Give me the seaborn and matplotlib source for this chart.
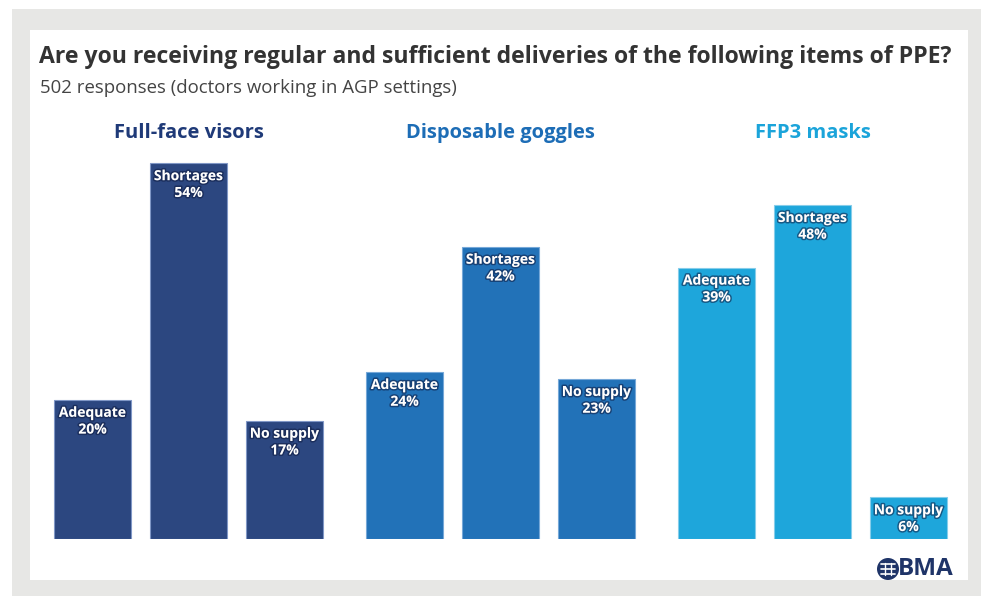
import matplotlib
matplotlib.use("Agg")
import matplotlib.pyplot as plt
import matplotlib.patheffects as pe
from matplotlib.patches import Rectangle, Ellipse
import seaborn as sns
import pandas as pd

# Survey data: share of respondents (%) per PPE item and supply status
groups = ["Full-face visors", "Disposable goggles", "FFP3 masks"]
statuses = ["Adequate", "Shortages", "No supply"]
visors = [20, 54, 17]
goggles = [24, 42, 23]
masks = [39, 48, 6]
values = [visors, goggles, masks]

bar_colors = ["#2c4780", "#2272b8", "#1ea6db"]
edge_colors = ["#8097c6", "#76a8d8", "#86cdea"]
title_colors = ["#1f3a78", "#1d6db6", "#1ba4da"]
navy = "#1f3468"

W, H = 981, 596
sns.set_theme(style="white")
plt.rcParams["font.family"] = ["Open Sans", "DejaVu Sans"]

fig = plt.figure(figsize=(W / 100, H / 100), dpi=100)
fig.patch.set_facecolor("white")


def fx(x):
    return x / W


def fy(y):
    return 1 - y / H


def panel(x0, y0, x1, y1, color):
    fig.patches.append(Rectangle((fx(x0), fy(y1)), (x1 - x0) / W, (y1 - y0) / H,
                                 transform=fig.transFigure, facecolor=color,
                                 edgecolor="none", zorder=-10))


# grey frame and white card
panel(12, 9, W, H, "#e7e7e5")
panel(30, 30, 968, 580, "white")

fig.text(fx(39), fy(57), "Are you receiving regular and sufficient deliveries of the following items of PPE?",
         fontsize=16.55, fontweight="bold", color="#333333", va="center", ha="left")
fig.text(fx(40), fy(88), "502 responses (doctors working in AGP settings)",
         fontsize=13.4, color="#444444", va="center", ha="left")

px_per_pct = 6.96
ymax = 60
base_px = 539
ax_lefts = [44.5, 356.5, 668.5]
ax_width = 288

shadow = [pe.withStroke(linewidth=2.2, foreground=(0.05, 0.1, 0.25, 0.55))]

for i, (grp, vals) in enumerate(zip(groups, values)):
    ax = fig.add_axes([fx(ax_lefts[i]), (H - base_px) / H, ax_width / W, ymax * px_per_pct / H])
    df = pd.DataFrame({"status": statuses, "pct": vals})
    sns.barplot(data=df, x="status", y="pct", color=bar_colors[i], saturation=1,
                width=0.8, edgecolor=edge_colors[i], linewidth=0.8, ax=ax)
    ax.set_xlim(-0.5, 2.5)
    ax.set_ylim(0, ymax)
    ax.axis("off")
    ax.patch.set_alpha(0)

    for j, (st, v) in enumerate(zip(statuses, vals)):
        ax.annotate(f"{st}\n{v}%", xy=(j, v), xytext=(0, -6), textcoords="offset pixels",
                    ha="center", va="top", fontsize=10, fontweight="bold", color="white",
                    linespacing=1.25, path_effects=shadow)

    ax.text(1, ymax + (539 - 133 - ymax * px_per_pct) / px_per_pct, grp, ha="center", va="center",
            fontsize=14.5, fontweight="bold", color=title_colors[i], clip_on=False)

# BMA mark: round emblem with stylised white strokes, then the letters
fig.patches.append(Ellipse((fx(888), fy(569)), 22 / W, 22 / H, transform=fig.transFigure,
                           facecolor=navy, edgecolor="none"))
for dy in (-5, 0, 5):
    fig.lines.append(plt.Line2D([fx(881), fx(895)], [fy(569 + dy), fy(569 + dy)],
                                transform=fig.transFigure, color="white", linewidth=1.2))
for dx in (-3, 3):
    fig.lines.append(plt.Line2D([fx(888 + dx), fx(888 + dx)], [fy(563), fy(575)],
                                transform=fig.transFigure, color="white", linewidth=1.0))
fig.text(fx(898), fy(569), "BMA", fontsize=17.5, fontweight="bold", color=navy,
         ha="left", va="center")

fig.savefig("out.png", dpi=100)
